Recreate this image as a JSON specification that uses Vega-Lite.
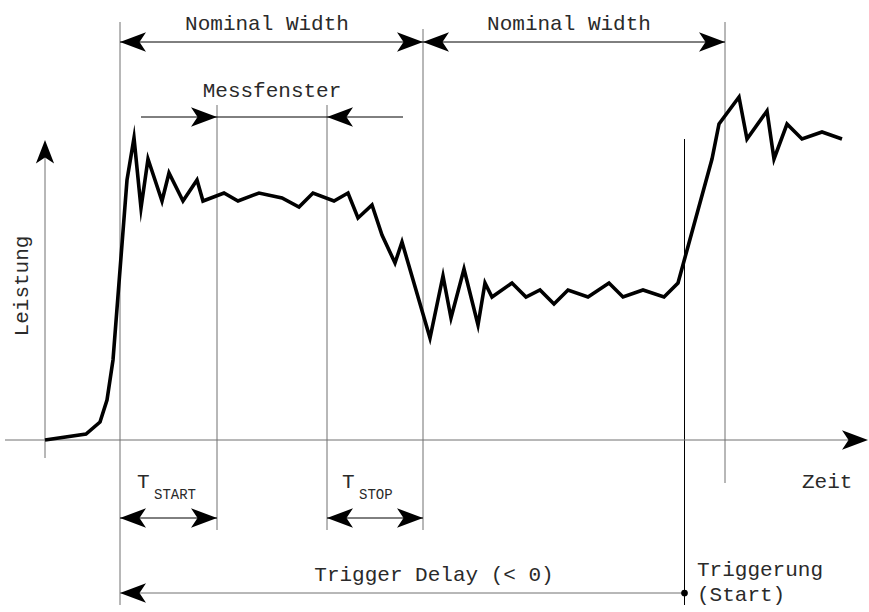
{
  "$schema": "https://vega.github.io/schema/vega-lite/v6.json",
  "width": 869,
  "height": 612,
  "autosize": {"type": "fit", "contains": "padding"},
  "padding": 0,
  "background": "white",
  "config": {"view": {"stroke": null}},
  "datasets": {
    "curve": [
      {"t": 0, "p": 0}, {"t": 41, "p": 6}, {"t": 55, "p": 18}, {"t": 62, "p": 40}, {"t": 68, "p": 80},
      {"t": 82, "p": 260}, {"t": 89, "p": 302}, {"t": 96, "p": 232}, {"t": 103, "p": 281}, {"t": 117, "p": 239},
      {"t": 124, "p": 267}, {"t": 138, "p": 239}, {"t": 152, "p": 260}, {"t": 158, "p": 239}, {"t": 179, "p": 247},
      {"t": 193, "p": 239}, {"t": 214, "p": 247}, {"t": 237, "p": 242}, {"t": 254, "p": 233}, {"t": 268, "p": 247},
      {"t": 289, "p": 239}, {"t": 303, "p": 247}, {"t": 313, "p": 222}, {"t": 327, "p": 235}, {"t": 337, "p": 205},
      {"t": 350, "p": 177}, {"t": 357, "p": 198}, {"t": 385, "p": 102}, {"t": 398, "p": 164}, {"t": 406, "p": 122},
      {"t": 419, "p": 171}, {"t": 433, "p": 115}, {"t": 440, "p": 157}, {"t": 447, "p": 143}, {"t": 467, "p": 157},
      {"t": 481, "p": 143}, {"t": 495, "p": 150}, {"t": 509, "p": 136}, {"t": 523, "p": 150}, {"t": 543, "p": 143},
      {"t": 564, "p": 157}, {"t": 578, "p": 143}, {"t": 598, "p": 150}, {"t": 619, "p": 143}, {"t": 633, "p": 157},
      {"t": 667, "p": 281}, {"t": 674, "p": 316}, {"t": 694, "p": 343}, {"t": 702, "p": 301}, {"t": 722, "p": 329},
      {"t": 729, "p": 281}, {"t": 742, "p": 316}, {"t": 757, "p": 301}, {"t": 777, "p": 308}, {"t": 797, "p": 301}
    ],
    "rules": [
      {"t": 75, "p": 418, "t2": 75, "p2": -165, "kind": "guide"},
      {"t": 172, "p": 335, "t2": 172, "p2": -90, "kind": "guide"},
      {"t": 282, "p": 335, "t2": 282, "p2": -90, "kind": "guide"},
      {"t": 378, "p": 411, "t2": 378, "p2": -90, "kind": "guide"},
      {"t": 680, "p": 418, "t2": 680, "p2": -43, "kind": "guide"},
      {"t": 639.5, "p": 301, "t2": 639.5, "p2": -165, "kind": "black"},
      {"t": 0, "p": -18, "t2": 0, "p2": 285, "kind": "guide"},
      {"t": -40, "p": 0, "t2": 805, "p2": 0, "kind": "guide"},
      {"t": 75, "p": 398, "t2": 378, "p2": 398, "kind": "black"},
      {"t": 378, "p": 398, "t2": 680, "p2": 398, "kind": "black"},
      {"t": 96, "p": 323, "t2": 358, "p2": 323, "kind": "black"},
      {"t": 75, "p": -78, "t2": 172, "p2": -78, "kind": "black"},
      {"t": 282, "p": -78, "t2": 378, "p2": -78, "kind": "black"},
      {"t": 75, "p": -153, "t2": 639.5, "p2": -153, "kind": "guide"}
    ],
    "heads": [
      {"t": 75, "p": 398, "dir": "left"}, {"t": 378, "p": 398, "dir": "right"},
      {"t": 378, "p": 398, "dir": "left"}, {"t": 680, "p": 398, "dir": "right"},
      {"t": 172, "p": 323, "dir": "right"}, {"t": 282, "p": 323, "dir": "left"},
      {"t": 75, "p": -78, "dir": "left"}, {"t": 172, "p": -78, "dir": "right"},
      {"t": 282, "p": -78, "dir": "left"}, {"t": 378, "p": -78, "dir": "right"},
      {"t": 75, "p": -153, "dir": "left"},
      {"t": 0, "p": 300, "dir": "up"},
      {"t": 823, "p": 0, "dir": "right"}
    ],
    "dot": [{"t": 639.5, "p": -153}],
    "centerText": [
      {"t": 222, "p": 410, "label": "Nominal Width"},
      {"t": 524, "p": 410, "label": "Nominal Width"},
      {"t": 227, "p": 343, "label": "Messfenster"},
      {"t": 389, "p": -141, "label": "Trigger Delay (< 0)"}
    ],
    "leftText": [
      {"t": 92, "p": -48, "label": "T"},
      {"t": 297, "p": -48, "label": "T"},
      {"t": 652, "p": -136, "label": "Triggerung"},
      {"t": 652, "p": -161, "label": "(Start)"},
      {"t": 757, "p": -48, "label": "Zeit"}
    ],
    "subText": [
      {"t": 109, "p": -59, "label": "START"},
      {"t": 314, "p": -59, "label": "STOP"}
    ],
    "yTitle": [{"t": -23, "p": 154, "label": "Leistung"}]
  },
  "layer": [
    {
      "data": {"name": "rules"},
      "mark": {"type": "rule", "strokeWidth": 1},
      "encoding": {
        "x": {"field": "t", "type": "quantitative", "scale": {"domain": [-45, 824], "nice": false, "zero": false}, "axis": null},
        "x2": {"field": "t2"},
        "y": {"field": "p", "type": "quantitative", "scale": {"domain": [-172, 440], "nice": false, "zero": false}, "axis": null},
        "y2": {"field": "p2"},
        "color": {"field": "kind", "type": "nominal", "scale": {"domain": ["guide", "black"], "range": ["#707070", "#000000"]}, "legend": null}
      }
    },
    {
      "data": {"name": "curve"},
      "mark": {"type": "line", "color": "#000000", "strokeWidth": 3.6, "strokeJoin": "miter", "strokeMiterLimit": 10},
      "encoding": {
        "x": {"field": "t", "type": "quantitative"},
        "y": {"field": "p", "type": "quantitative"}
      }
    },
    {
      "data": {"name": "heads"},
      "mark": {"type": "point", "filled": true, "size": 676, "opacity": 1, "color": "#000000", "strokeWidth": 0},
      "encoding": {
        "x": {"field": "t", "type": "quantitative"},
        "y": {"field": "p", "type": "quantitative"},
        "shape": {"field": "dir", "type": "nominal", "legend": null,
          "scale": {"domain": ["left", "right", "up"],
            "range": ["M0,0 L2,-0.75 L1.5,0 L2,0.75 Z", "M0,0 L-2,-0.75 L-1.5,0 L-2,0.75 Z", "M0,0 L-0.7,1.8 L0,1.35 L0.7,1.8 Z"]}}
      }
    },
    {
      "data": {"name": "dot"},
      "mark": {"type": "point", "filled": true, "size": 45, "opacity": 1, "color": "#000000", "shape": "circle"},
      "encoding": {
        "x": {"field": "t", "type": "quantitative"},
        "y": {"field": "p", "type": "quantitative"}
      }
    },
    {
      "data": {"name": "centerText"},
      "mark": {"type": "text", "font": "Liberation Mono", "fontSize": 21, "align": "center", "baseline": "alphabetic", "color": "#2a2a2a"},
      "encoding": {
        "x": {"field": "t", "type": "quantitative"},
        "y": {"field": "p", "type": "quantitative"},
        "text": {"field": "label"}
      }
    },
    {
      "data": {"name": "leftText"},
      "mark": {"type": "text", "font": "Liberation Mono", "fontSize": 21, "align": "left", "baseline": "alphabetic", "color": "#2a2a2a"},
      "encoding": {
        "x": {"field": "t", "type": "quantitative"},
        "y": {"field": "p", "type": "quantitative"},
        "text": {"field": "label"}
      }
    },
    {
      "data": {"name": "subText"},
      "mark": {"type": "text", "font": "Liberation Mono", "fontSize": 14, "align": "left", "baseline": "alphabetic", "color": "#2a2a2a"},
      "encoding": {
        "x": {"field": "t", "type": "quantitative"},
        "y": {"field": "p", "type": "quantitative"},
        "text": {"field": "label"}
      }
    },
    {
      "data": {"name": "yTitle"},
      "mark": {"type": "text", "font": "Liberation Mono", "fontSize": 21, "align": "center", "baseline": "middle", "angle": 270, "color": "#2a2a2a"},
      "encoding": {
        "x": {"field": "t", "type": "quantitative"},
        "y": {"field": "p", "type": "quantitative"},
        "text": {"field": "label"}
      }
    }
  ]
}
